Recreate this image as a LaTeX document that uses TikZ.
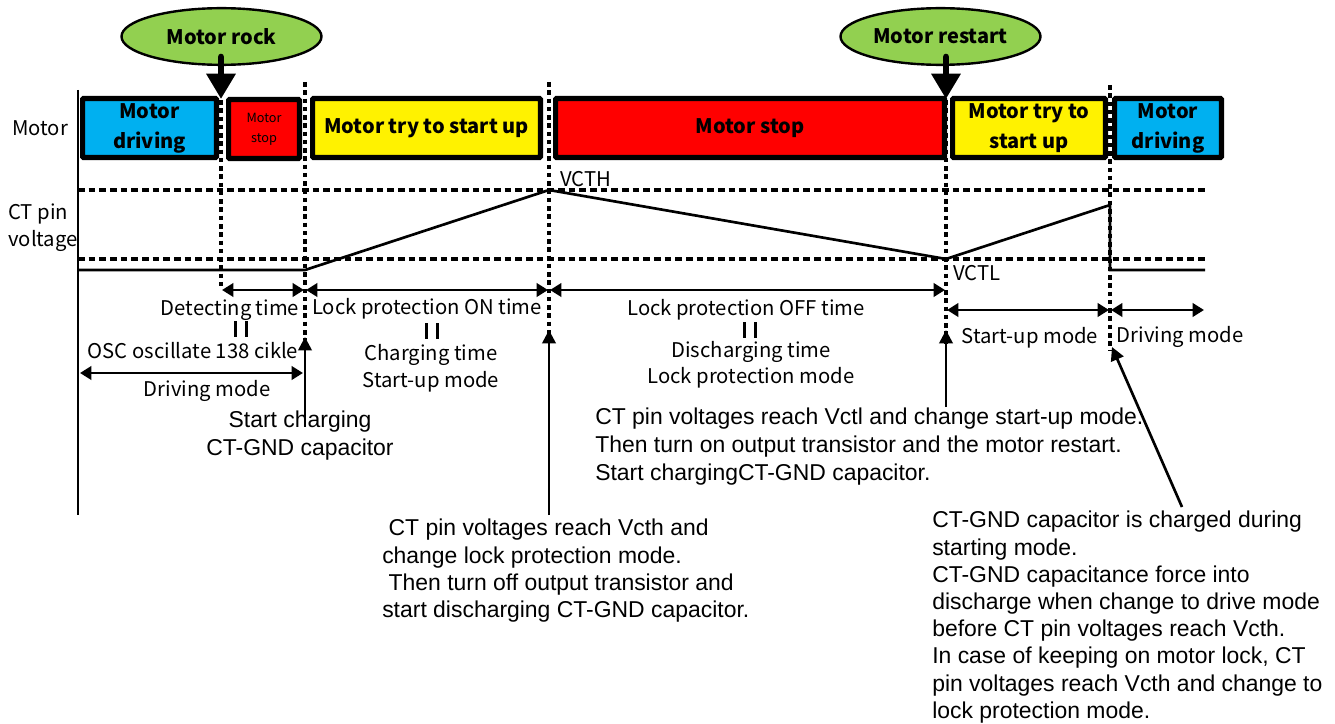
\documentclass[tikz,border=0pt]{standalone}
\usepackage{fontspec}
\setmainfont{Liberation Sans}
\newfontfamily\gothic{Noto Sans CJK JP}
\usetikzlibrary{arrows.meta,shapes.geometric}
\definecolor{cblue}{RGB}{0,176,240}
\definecolor{cgreen}{RGB}{146,208,80}
\tikzset{
  x=0.75pt,y=-0.75pt,
  modebox/.style={draw=black,line width=3.8pt,rounded corners=0.6pt,inner sep=0pt,anchor=north west,align=center,font=\gothic\bfseries\fontsize{15}{22.5}\selectfont},
  bubble/.style={ellipse,draw=black,line width=1.8pt,fill=cgreen,inner sep=0pt,minimum width=150pt,minimum height=42.5pt,font=\gothic\bfseries\fontsize{15}{20}\selectfont},
  vdash/.style={line width=2.3pt,dash pattern=on 3.4pt off 2.8pt},
  hdash/.style={line width=2.3pt,dash pattern=on 5pt off 3pt},
  wave/.style={line width=2pt,line join=miter},
  span/.style={line width=2pt,{Triangle[length=8.5pt,width=10pt]}-{Triangle[length=8.5pt,width=10pt]}},
  upline/.style={line width=2pt,-{Triangle[length=10pt,width=10pt]}},
  bigarrow/.style={line width=5pt,line cap=round,-{Triangle[length=19pt,width=21pt]}},
  jp/.style={font=\gothic\fontsize{15.2}{20}\selectfont,inner sep=0pt,align=center},
  ar/.style={font=\fontsize{17.2}{20.4}\selectfont,inner sep=0pt,align=left},
  eqbar/.style={line width=2pt},
}
\begin{document}
\begin{tikzpicture}
\useasboundingbox (0,0) rectangle (1335,724);
% boxes
\def\bx#1#2#3#4#5#6{\node[modebox,fill=#4,minimum width=#3*0.75pt-3.8pt,minimum height=#5*0.75pt-3.8pt] (#1) at (#2) {#6};}
\bx{b1}{80,96}{139}{cblue}{64}{Motor\\driving}
\node[modebox,fill=red,minimum width=76*0.75pt-3.8pt,minimum height=64*0.75pt-3.8pt,font=\gothic\fontsize{9.5}{15}\selectfont] (b2) at (226,97) {Motor\\stop};
\bx{b3}{310,96}{233}{yellow}{64}{Motor try to start up}
\bx{b4}{553,96}{394}{red}{64}{Motor stop}
\bx{b5}{950,96}{158}{yellow}{64}{Motor try to\\start up}
\bx{b6}{1112,96}{112}{cblue}{64}{Motor\\driving}
% axis
\coordinate (ax0) at (78,90); \coordinate (ax1) at (78,515);
\draw[line width=2pt] (ax0) -- (ax1);
% dashed
\coordinate (d1a) at (221,100); \coordinate (d1b) at (221,290);
\coordinate (d2a) at (305,82);  \coordinate (d2b) at (305,340);
\coordinate (d3a) at (549,82);  \coordinate (d3b) at (549,335);
\coordinate (d4a) at (946,100); \coordinate (d4b) at (946,345);
\coordinate (d5a) at (1110,85); \coordinate (d5b) at (1110,350);
\foreach \n in {1,...,5} \draw[vdash] (d\n a) -- (d\n b);
\coordinate (hi0) at (78,190); \coordinate (hi1) at (1205,190);
\coordinate (lo0) at (78,259); \coordinate (lo1) at (1205,259);
\draw[hdash] (hi0) -- (hi1);
\draw[hdash] (lo0) -- (lo1);
% waveform
\coordinate (w0) at (78,270); \coordinate (w1) at (305,270); \coordinate (w2) at (549,190);
\coordinate (w3) at (946,259); \coordinate (w4) at (1110,205); \coordinate (w5) at (1110,270); \coordinate (w6) at (1205,270);
\draw[wave] (w0) -- (w1) -- (w2) -- (w3) -- (w4) -- (w5) -- (w6);
% bubbles
\node[bubble] (rock) at (221.5,36.5) {Motor rock};
\node[bubble] (restart) at (940.5,36.5) {Motor restart};
\coordinate (ra) at (221,57); \coordinate (rb) at (221,99);
\coordinate (sa) at (946,57); \coordinate (sb) at (946,99);
\draw[bigarrow] (ra) -- (rb);
\draw[bigarrow] (sa) -- (sb);
% spans
\coordinate (s1a) at (222,290); \coordinate (s1b) at (304,290);
\coordinate (s2a) at (306,290); \coordinate (s2b) at (548,290);
\coordinate (s3a) at (550,290); \coordinate (s3b) at (945,290);
\coordinate (s4a) at (947,310); \coordinate (s4b) at (1109,310);
\coordinate (s5a) at (1111,310); \coordinate (s5b) at (1204,310);
\coordinate (s6a) at (80,373); \coordinate (s6b) at (303,373);
\foreach \n in {1,...,6} \draw[span] (s\n a) -- (s\n b);
% up arrows
\coordinate (u1a) at (305,423); \coordinate (u1b) at (305,337);
\coordinate (u2a) at (549,515); \coordinate (u2b) at (549,330);
\coordinate (u3a) at (946,407); \coordinate (u3b) at (946,330);
\coordinate (u4a) at (1182,507); \coordinate (u4b) at (1112,347);
\foreach \n in {1,...,4} \draw[upline] (u\n a) -- (u\n b);
% equals bars
\foreach \cx/\cy in {241/329,432/331,750/330}{
  \draw[eqbar] (\cx-5.5,\cy-8) -- (\cx-5.5,\cy+8);
  \draw[eqbar] (\cx+5.5,\cy-8) -- (\cx+5.5,\cy+8);
}
% labels
\node[jp] (lm) at (40,128) {Motor};
\node[jp,align=left,anchor=west] (lct) at (8,228) {CT pin\\voltage};
\node[jp,anchor=west] (lh) at (560,179) {VCTH};
\node[jp,anchor=west] (ll) at (953,273) {VCTL};
\node[jp] (t1) at (230,310) {Detecting time};
\node[jp] (t2) at (427,309) {Lock protection ON time};
\node[jp] (t3) at (746,310) {Lock protection OFF time};
\node[jp] (t4) at (193,351) {OSC oscillate 138 cikle};
\node[jp] (t5) at (207,391) {Driving mode};
\node[jp] (t6) at (431,355) {Charging time};
\node[jp] (t7) at (431,382) {Start-up mode};
\node[jp] (t8) at (751,352) {Discharging time};
\node[jp] (t9) at (751,378) {Lock protection mode};
\node[jp] (t10) at (1030,338) {Start-up mode};
\node[jp] (t11) at (1180,337) {Driving mode};
\node[ar,align=center,font=\fontsize{17.2}{21}\selectfont] (c1) at (300,436) {Start charging\\CT-GND capacitor};
\node[ar,anchor=north west] (c2) at (382,519) {\ CT pin voltages reach Vcth and\\change lock protection mode.\\\ Then turn off output transistor and\\start discharging CT-GND capacitor.};
\node[ar,anchor=north west,font=\fontsize{17.2}{21}\selectfont] (c3) at (595,408) {CT pin voltages reach Vctl and change start-up mode.\\Then turn on output transistor and the motor restart.\\Start chargingCT-GND capacitor.};
\node[ar,anchor=north west,font=\fontsize{17.2}{20.4}\selectfont] (c4) at (932,511) {CT-GND capacitor is charged during\\starting mode.\\CT-GND capacitance force into\\discharge when change to drive mode\\before CT pin voltages reach Vcth.\\In case of keeping on motor lock, CT\\pin voltages reach Vcth and change to\\lock protection mode.};
\end{tikzpicture}
\end{document}
